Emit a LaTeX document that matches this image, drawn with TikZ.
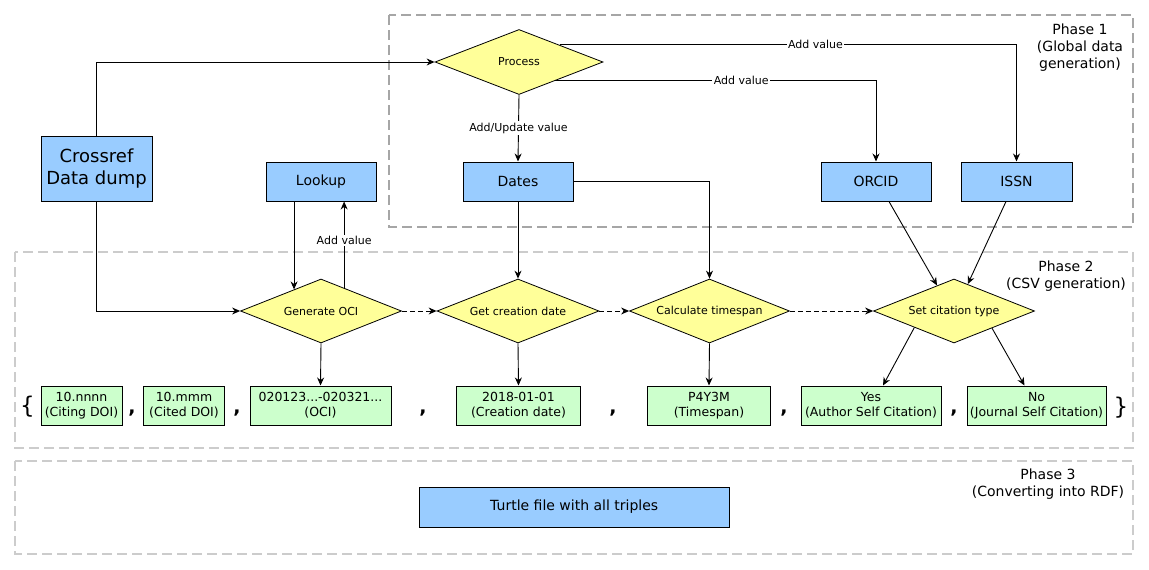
\documentclass[tikz,border=0pt]{standalone}
\usepackage{fontspec}
\setmainfont{DejaVu Sans}
\usetikzlibrary{shapes.geometric,arrows.meta,calc}

\definecolor{boxblue}{HTML}{99CCFF}
\definecolor{boxyellow}{HTML}{FFFF99}
\definecolor{boxgreen}{HTML}{CCFFCC}
\definecolor{phasedark}{HTML}{A6A6A6}
\definecolor{phaselight}{HTML}{CCCCCC}

\tikzset{
  source/.style={draw, fill=boxblue, line width=1pt, inner sep=0pt,
    minimum width=110pt, minimum height=39pt, font=\fontsize{14}{17}\selectfont},
  decision/.style={diamond, draw, fill=boxyellow, line width=0.8pt, inner sep=0pt,
    aspect=2.5, minimum width=161pt, minimum height=64pt, font=\fontsize{11}{13}\selectfont},
  field/.style={draw, fill=boxgreen, line width=1pt, inner sep=0pt, align=center,
    minimum height=39pt, font=\fontsize{12.5}{15}\selectfont},
  phase/.style={dash pattern=on 10pt off 5pt, line width=1.6pt},
  phasetext/.style={align=center, font=\fontsize{14}{17}\selectfont},
  flow/.style={-{Stealth[length=8pt,width=7pt]}, line width=0.9pt},
  next/.style={flow, dash pattern=on 5pt off 3pt},
  lbl/.style={fill=white, inner sep=1.5pt, font=\fontsize{11}{13}\selectfont},
  sep/.style={anchor=base, inner sep=0pt, font=\bfseries\fontsize{19}{19}\selectfont},
  brace/.style={inner sep=0pt, font=\fontsize{23}{23}\selectfont}
}

\begin{document}
\begin{tikzpicture}[x=1pt, y=-1pt]
  \useasboundingbox (0,0) rectangle (1149,570);

  % Phases
  \draw[phase, phasedark] (389,15) rectangle (1133,227);
  \draw[phase, phaselight] (15,252) rectangle (1133,448);
  \draw[phase, phaselight] (15,461) rectangle (1133,554);
  \node[phasetext] (ph1) at (1080,48) {Phase 1\\(Global data\\generation)};
  \node[phasetext] (ph2) at (1066,276) {Phase 2\\(CSV generation)};
  \node[phasetext] (ph3) at (1048,484) {Phase 3\\(Converting into RDF)};

  % Phase 1
  \node[source, minimum width=111pt, minimum height=65pt, align=center,
    font=\fontsize{18}{22}\selectfont] (crossref) at (96.5,168.5) {Crossref\\Data dump};
  \node[decision, minimum width=168pt, minimum height=65pt] (process) at (519,62) {Process};
  \node[source] (lookup) at (321,181.5) {Lookup};
  \node[source] (dates) at (518,181.5) {Dates};
  \node[source] (orcid) at (876,181.5) {ORCID};
  \node[source, minimum width=111pt] (issn) at (1016.5,181.5) {ISSN};

  % Phase 2
  \node[decision] (genoci) at (321,311) {Generate OCI};
  \node[decision, minimum width=162pt] (getdate) at (518,311) {Get creation date};
  \node[decision, minimum width=160pt] (calcspan) at (709.5,311) {Calculate timespan};
  \node[decision] (settype) at (954,311) {Set citation type};

  \node[field, minimum width=81pt] (citing) at (81.5,405.5) {10.nnnn\\(Citing DOI)};
  \node[field, minimum width=81pt] (cited) at (184,405.5) {10.mmm\\(Cited DOI)};
  \node[field, minimum width=141pt] (oci) at (320.5,405.5) {020123...-020321...\\(OCI)};
  \node[field, minimum width=124pt] (cdate) at (518.5,405.5) {2018-01-01\\(Creation date)};
  \node[field, minimum width=123.5pt] (span) at (709,405.5) {P4Y3M\\(Timespan)};
  \node[field, minimum width=140pt] (yes) at (871,405.5) {Yes\\(Author Self Citation)};
  \node[field, minimum width=139pt] (no) at (1036.5,405.5) {No\\(Journal Self Citation)};

  \node[brace] (open) at (27.5,407) {\{};
  \node[brace] (close) at (1121,408) {\}};
  \foreach \x [count=\i] in {132,237,423,613,784,954}
    \node[sep] (comma\i) at (\x,413) {,};

  % Phase 3
  \node[source, minimum width=309.5pt, minimum height=40pt] (turtle) at (574.25,507) {Turtle file with all triples};

  % Connectors
  \draw[flow] (crossref.north) |- (process.west);
  \draw[flow] (crossref.south) |- (genoci.west);
  \draw[flow] (process.south) -- node[lbl, pos=0.5] {Add/Update value} (dates.north);
  \coordinate (up) at ($(process.north)!0.48!(process.east)$);
  \coordinate (low) at ($(process.south)!0.43!(process.east)$);
  \draw[flow] (up) -| node[lbl, pos=0.28] {Add value} (issn.north);
  \draw[flow] (low) -| node[lbl, pos=0.29] {Add value} (orcid.north);
  \draw[flow] (dates.east) -| (calcspan.north);
  \draw[flow] (dates.south) -- (getdate.north);

  \coordinate (ociin) at ($(genoci.north)!0.333!(genoci.west)$);
  \coordinate (ociout) at ($(genoci.north)!0.286!(genoci.east)$);
  \draw[flow] (ociin |- lookup.south) -- (ociin);
  \draw[flow] (ociout) -- node[lbl, pos=0.55] {Add value} (ociout |- lookup.south);

  \draw[flow] ([xshift=13pt]orcid.south) -- ($(settype.north)!0.21!(settype.west)$);
  \draw[flow] ([xshift=-10.5pt]issn.south) -- ($(settype.north)!0.17!(settype.east)$);

  \draw[next] (genoci.east) -- (getdate.west);
  \draw[next] (getdate.east) -- (calcspan.west);
  \draw[next] (calcspan.east) -- (settype.west);

  \draw[flow] (genoci.south) -- (oci.north);
  \draw[flow] (getdate.south) -- (cdate.north);
  \draw[flow] (calcspan.south) -- (span.north);
  \draw[flow] ($(settype.south)!0.49!(settype.west)$) -- ([xshift=12pt]yes.north);
  \draw[flow] ($(settype.south)!0.47!(settype.east)$) -- ([xshift=-12pt]no.north);
\end{tikzpicture}
\end{document}
